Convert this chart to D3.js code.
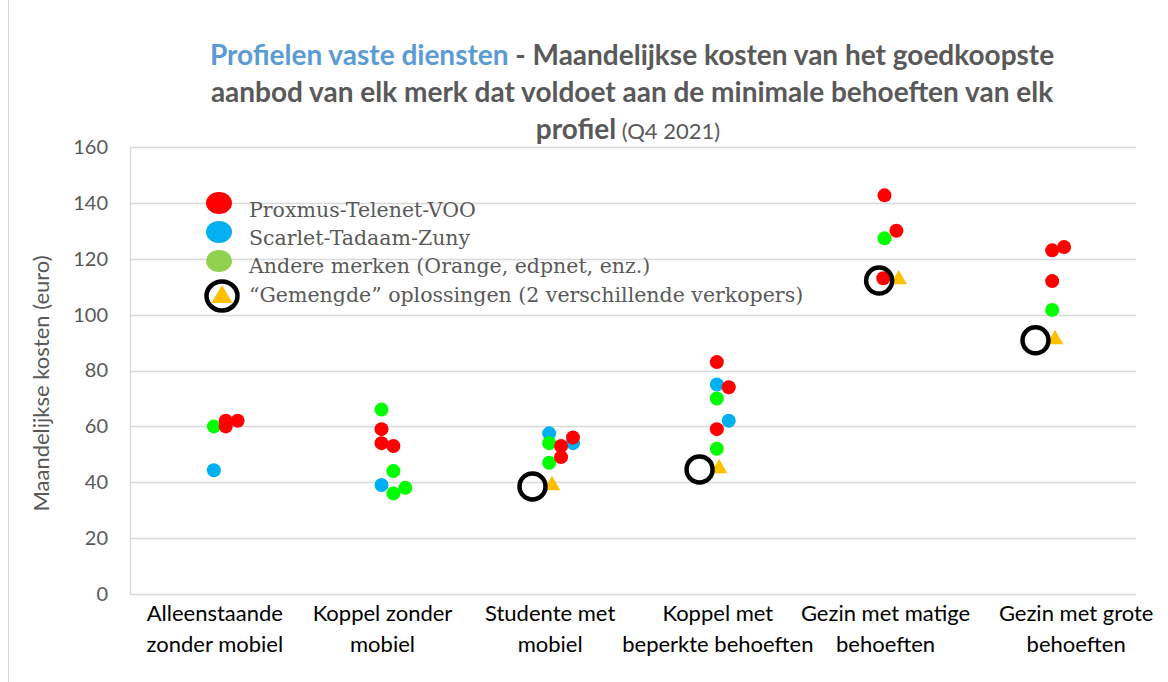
<!DOCTYPE html>
<html>
<head>
<meta charset="utf-8">
<script src="https://cdn.jsdelivr.net/npm/d3@7.9.0/dist/d3.min.js"></script>
<style>
  body { margin: 0; background: #fff; }
  svg { display: block; }
  .tick-label { font-family: Lato, "Open Sans", sans-serif; font-size: 20px; fill: #595959; }
  .cat-label { font-family: Lato, "Open Sans", sans-serif; font-size: 22px; fill: #000; }
  .legend-text { font-family: "DejaVu Serif", serif; font-size: 20.5px; fill: #595959; }
</style>
</head>
<body>
<svg id="chart" width="1168" height="682"></svg>
<script>
// profiles (x axis categories)
const labelLines = [
  ["Alleenstaande", "zonder mobiel"],
  ["Koppel zonder", "mobiel"],
  ["Studente met", "mobiel"],
  ["Koppel met", "beperkte behoeften"],
  ["Gezin met matige", "behoeften"],
  ["Gezin met grote", "behoeften"]
];
const yTicks = [0, 20, 40, 60, 80, 100, 120, 140, 160];

// [category index, euro per month, horizontal slot]
const proximus = [
  [0, 62, 1], [0, 60, 1], [0, 62, 2],
  [1, 59, 0], [1, 54, 0], [1, 53, 1],
  [2, 53, 1], [2, 56, 2], [2, 49, 1],
  [3, 83, 0], [3, 74, 1], [3, 59, 0],
  [4, 142.7, 0], [4, 130, 1], [4, 113, -0.1],
  [5, 123, 0], [5, 124.2, 1], [5, 112, 0]
];
const scarlet = [
  [0, 44.3, 0],
  [1, 39, 0],
  [2, 57.5, 0], [2, 54, 2],
  [3, 75, 0], [3, 62, 1]
];
const andere = [
  [0, 60, 0],
  [1, 66, 0], [1, 44, 1], [1, 36, 1], [1, 38, 2],
  [2, 54, 0], [2, 47, 0],
  [3, 70, 0], [3, 52, 0],
  [4, 127.3, 0],
  [5, 101.7, 0]
];
const gemengd = [
  [2, 38.5, -1.4],
  [3, 44.6, -1.45],
  [4, 112.2, -0.45],
  [5, 90.8, -1.4]
];

const legendItems = [
  "Proxmus-Telenet-VOO",
  "Scarlet-Tadaam-Zuny",
  "Andere merken (Orange, edpnet, enz.)",
  "\u201cGemengde\u201d oplossingen (2 verschillende verkopers)"
];

const svg = d3.select("#chart");
const W = 1168, H = 682;
const margin = { left: 130, right: 1136, top: 147, bottom: 594 };

// outer chart border
svg.append("rect")
  .attr("x", 8.5).attr("y", -1).attr("width", W - 8).attr("height", H + 2)
  .attr("fill", "none").attr("stroke", "#d9d9d9");

const x = d3.scaleLinear().domain([-0.5, 5.5]).range([margin.left, margin.right]);
const y = d3.scaleLinear().domain([0, 160]).range([margin.bottom, margin.top]);
const slotW = 0.071;
const px = (d) => x(d[0] + d[2] * slotW);

// grid
svg.append("g")
  .selectAll("line")
  .data(yTicks)
  .join("line")
  .attr("x1", margin.left).attr("x2", margin.right)
  .attr("y1", (d) => Math.round(y(d)) + 0.5).attr("y2", (d) => Math.round(y(d)) + 0.5)
  .attr("stroke", "#d9d9d9").attr("stroke-width", 1.3);

svg.append("line")
  .attr("x1", margin.left + 0.5).attr("x2", margin.left + 0.5)
  .attr("y1", margin.top).attr("y2", margin.bottom)
  .attr("stroke", "#d9d9d9").attr("stroke-width", 1.3);

// y axis
const yAxis = d3.axisLeft(y).tickValues(yTicks).tickSize(0).tickPadding(22);
const gy = svg.append("g").attr("transform", `translate(${margin.left},0)`).call(yAxis);
gy.select(".domain").remove();
gy.selectAll("text").attr("class", "tick-label").attr("font-size", null).attr("font-family", null).attr("fill", null);

svg.append("text")
  .attr("transform", `translate(49,${(margin.top + margin.bottom) / 2 + 13}) rotate(-90)`)
  .attr("text-anchor", "middle")
  .attr("class", "tick-label")
  .style("font-size", "22px")
  .text("Maandelijkse kosten (euro)");

// category labels
const labels = svg.append("g")
  .selectAll("text")
  .data(labelLines)
  .join("text")
  .attr("class", "cat-label")
  .attr("text-anchor", "middle")
  .attr("x", (d, i) => x(i) + (i === 5 ? 24 : 1))
  .attr("y", 621);
labels.selectAll("tspan")
  .data((d) => d)
  .join("tspan")
  .attr("x", function () { return this.parentNode.getAttribute("x"); })
  .attr("dy", (d, i) => (i === 0 ? 0 : 31))
  .text((d) => d);

// title
const title = svg.append("g").attr("font-family", "Lato, 'Open Sans', sans-serif")
  .attr("font-weight", "bold").attr("font-size", 28).attr("text-anchor", "middle");
const t1 = title.append("text").attr("x", 632).attr("y", 65);
t1.append("tspan").attr("fill", "#5b9bd5").text("Profielen vaste diensten");
t1.append("tspan").attr("fill", "#595959").text(" - Maandelijkse kosten van het goedkoopste");
title.append("text").attr("x", 632).attr("y", 102).attr("fill", "#595959")
  .text("aanbod van elk merk dat voldoet aan de minimale behoeften van elk");
const t3 = title.append("text").attr("x", 628).attr("y", 139).attr("fill", "#595959");
t3.append("tspan").text("profiel");
t3.append("tspan").attr("font-weight", "normal").attr("font-size", 22).text(" (Q4 2021)");

// points
const dotR = 7;
const series = [
  { data: scarlet, color: "#00b0f0" },
  { data: andere, color: "#00ff00" },
  { data: proximus, color: "#ff0000" }
];
series.forEach((s) => {
  svg.append("g")
    .selectAll("circle")
    .data(s.data)
    .join("circle")
    .attr("cx", px)
    .attr("cy", (d) => y(d[1]))
    .attr("r", dotR)
    .attr("fill", s.color);
});

// mixed solutions: triangle with a ring
const tri = d3.symbol().type(d3.symbolTriangle).size(120);
svg.append("g")
  .selectAll("path")
  .data(gemengd)
  .join("path")
  .attr("d", tri)
  .attr("transform", (d) => `translate(${px(d) + 19.5},${y(d[1]) - 1})`)
  .attr("fill", "#ffc000");
svg.append("g")
  .selectAll("circle")
  .data(gemengd)
  .join("circle")
  .attr("cx", px)
  .attr("cy", (d) => y(d[1]))
  .attr("r", 13)
  .attr("fill", "none")
  .attr("stroke", "#000")
  .attr("stroke-width", 4.5);

// legend
const lg = svg.append("g");
const legendColors = ["#ff0000", "#00b0f0", "#92d050"];
const rowY = [203, 232, 261, 296];
legendColors.forEach((c, i) => {
  lg.append("ellipse").attr("cx", 219).attr("cy", rowY[i]).attr("rx", 13).attr("ry", 11).attr("fill", c);
});
lg.append("path")
  .attr("d", d3.symbol().type(d3.symbolTriangle).size(190))
  .attr("transform", `translate(222,${rowY[3] + 1})`)
  .attr("fill", "#ffc000");
lg.append("ellipse").attr("cx", 222).attr("cy", rowY[3]).attr("rx", 15.5).attr("ry", 14.5)
  .attr("fill", "none").attr("stroke", "#000").attr("stroke-width", 4.5);
lg.selectAll("text.legend-text")
  .data(legendItems)
  .join("text")
  .attr("class", "legend-text")
  .attr("x", 249)
  .attr("y", (d, i) => [217, 245, 273, 302][i])
  .text((d) => d);
</script>
</body>
</html>
